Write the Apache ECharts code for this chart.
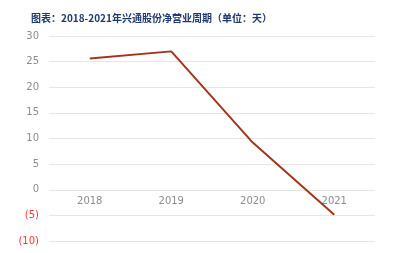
<!DOCTYPE html>
<html><head><meta charset="utf-8">
<script src="https://cdn.jsdelivr.net/npm/echarts@6/dist/echarts.min.js"></script>
<style>html,body{margin:0;padding:0;background:#fff}#c{width:398px;height:253px}</style>
</head><body><div id="c"></div>
<script>
var categories = ['2018', '2019', '2020', '2021'];
var values = [25.6, 27.0, 9.2, -4.9];
var yTicks = [-10, -5, 0, 5, 10, 15, 20, 25, 30];
var titleText = '图表：2018-2021年兴通股份净营业周期（单位：天）';

var chart = echarts.init(document.getElementById('c'));
chart.setOption({
  animation: false,
  title: {
    text: titleText, left: 26, top: 8,
    textStyle: { fontSize: 10, fontWeight: 'bold', color: '#1F3A6E', fontFamily: 'Noto Sans CJK SC' }
  },
  grid: { left: 49, right: 23, top: 36, bottom: 12 },
  xAxis: {
    type: 'category', data: categories, boundaryGap: true,
    offset: -51,
    axisLine: { show: false, onZero: false },
    axisTick: { show: false },
    axisLabel: { color: '#8c8c8c', fontSize: 10, margin: 6, fontFamily: 'DejaVu Sans' }
  },
  yAxis: {
    type: 'value', min: yTicks[0], max: yTicks[yTicks.length - 1], interval: 5,
    axisLine: { show: false }, axisTick: { show: false },
    splitLine: { lineStyle: { color: '#e6e6e6', width: 1 } },
    axisLabel: {
      fontSize: 10, margin: 10, fontFamily: 'DejaVu Sans',
      formatter: function (v) { return v < 0 ? '{n|(' + (-v) + ')}' : '{p|' + v + '}'; },
      rich: { n: { color: '#ff3333', fontSize: 10 }, p: { color: '#8c8c8c', fontSize: 10 } }
    }
  },
  series: [{
    type: 'line', data: values, symbol: 'none',
    lineStyle: { color: '#A4341B', width: 2 }
  }]
});
</script></body></html>
